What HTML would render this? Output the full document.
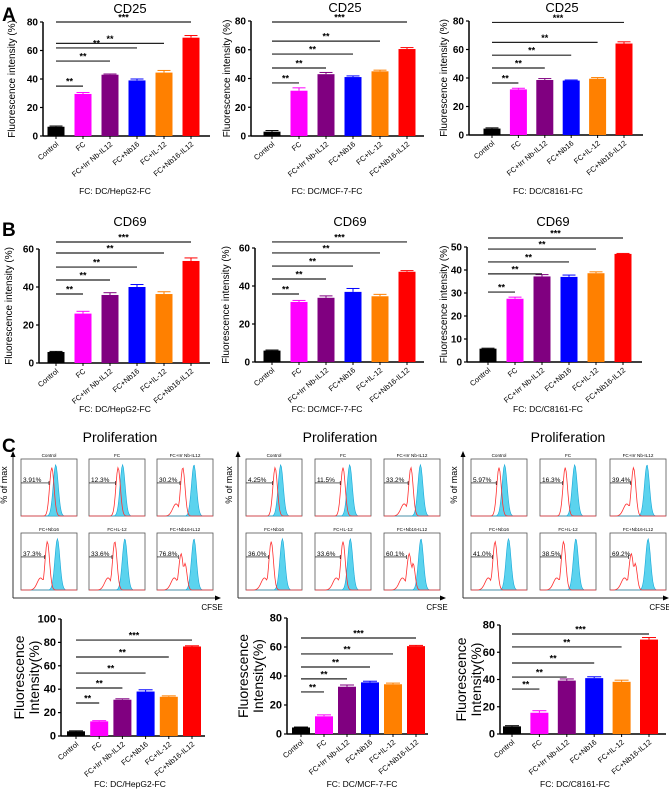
<!DOCTYPE html>
<html><head><meta charset="utf-8">
<style>
body{margin:0;background:#fff;}
svg{display:block;font-family:"Liberation Sans",Arial,sans-serif;}
</style></head>
<body>
<svg id="fig" width="669" height="790" viewBox="0 0 669 790" xmlns="http://www.w3.org/2000/svg">
<text x="2" y="21" font-size="19" font-weight="bold">A</text>
<text x="2" y="236" font-size="19" font-weight="bold">B</text>
<text x="2" y="452" font-size="19" font-weight="bold">C</text>
</svg>
<script>
const categories = ["Control","FC","FC+Irr Nb-IL12","FC+Nb16","FC+IL-12","FC+Nb16-IL12"];
const colors = ["#000000","#ff00ff","#800080","#0000ff","#ff8000","#ff0000"];
const a1Values = [6.5,29.5,43,39,44.5,69];
const a1Errors = [0.5,1,0.5,1,1.5,1.5];
const a2Values = [3,31.5,43,41,45,60.5];
const a2Errors = [0.8,2,1.2,0.8,0.8,1];
const a3Values = [4.5,32,38.6,38.2,39.5,64.2];
const a3Errors = [0.5,0.8,1,0.4,0.8,1.2];
const b1Values = [5.8,26,35.8,40,36.3,53.7];
const b1Errors = [0.3,1.2,1.2,1.3,1.2,1.6];
const b2Values = [6,31.6,33.8,36.9,34.6,47.5];
const b2Errors = [0.3,0.8,1,1.8,1,0.6];
const b3Values = [5.8,27.5,37.2,37,38.6,47];
const b3Errors = [0.2,0.7,0.8,0.8,0.6,0.2];
const c1Values = [4,12.5,31,38,33.5,76.5];
const c1Errors = [0.4,0.6,0.8,1.5,0.8,0.6];
const c2Values = [4.5,12.2,32.6,35.6,34.3,60.6];
const c2Errors = [0.3,1,1.2,0.8,0.8,0.5];
const c3Values = [5.6,15.6,39.2,41,38.3,69.3];
const c3Errors = [0.5,1.5,1.2,1,1.2,1.5];
const a1Sig = [35,52.6,61.8,65,80];
const a2Sig = [36.9,47.3,57,66,79.3];
const a3Sig = [36.5,47,56,65,79];
const b1Sig = [36.3,43.7,50.5,57.9,63.7];
const b2Sig = [35.8,43.7,50.5,57.4,63.2];
const b3Sig = [30.4,38.3,43.5,49.1,53.9];
const c1Sig = [28.2,41,53.8,67.5,82];
const c2Sig = [29,38,46.2,55.2,66.2];
const c3Sig = [33,41.8,52.1,63.9,73.4];
const sigLabels = ["**","**","**","**","***"];
const ticks80 = [0,20,40,60,80];
const ticks60 = [0,20,40,60];
const ticks50 = [0,10,20,30,40,50];
const ticks100 = [0,20,40,60,80,100];
const flowTitles = ["Control","FC","FC+Irr Nb-IL12","FC+Nb16","FC+IL-12","FC+Nb16-IL12"];
const flow1Pct = ["3.91%","12.3%","30.2%","37.3%","33.6%","76.8%"];
const flow2Pct = ["4.25%","11.5%","33.2%","36.0%","33.6%","60.1%"];
const flow3Pct = ["5.97%","16.3%","39.4%","41.0%","38.5%","69.2%"];

const NS="http://www.w3.org/2000/svg";
const svg=document.getElementById('fig');
function el(tag,attrs,parent,txt){const e=document.createElementNS(NS,tag);for(const k in attrs)e.setAttribute(k,attrs[k]);if(txt!==undefined)e.textContent=txt;(parent||svg).appendChild(e);return e;}

function barChart(cfg){
  const g=el('g',{});
  
  
  const maxT=cfg.ticks[cfg.ticks.length-1];
  const y=v=>cfg.y0-(cfg.y0-cfg.yTop)*v/maxT;
  const step=(cfg.cLast-cfg.c0)/5;
  const x=i=>cfg.c0+step*i;
  const bw=cfg.bw||17;
  const ya=el('line',{x1:cfg.ax,y1:y(maxT),x2:cfg.ax,y2:cfg.y0,stroke:'#000','stroke-width':1.5},g);
  
  const xa=el('line',{x1:cfg.ax,y1:cfg.y0,x2:cfg.axEnd,y2:cfg.y0,stroke:'#000','stroke-width':1.5},g);
  
  cfg.ticks.forEach(t=>{
    el('line',{x1:cfg.ax-3,y1:y(t),x2:cfg.ax,y2:y(t),stroke:'#000','stroke-width':1.2},g);
    const tl=el('text',{x:cfg.ax-5,y:y(t)+3.5,'font-size':cfg.tfs||10,'font-weight':'bold','text-anchor':'end'},g,t);
    
  });
  cfg.values.forEach((v,i)=>{
    const b=el('rect',{x:x(i)-bw/2,y:y(v),width:bw,height:cfg.y0-y(v),fill:colors[i]},g);
    
    
    const e=cfg.errors[i];
    el('line',{x1:x(i),y1:y(v),x2:x(i),y2:y(v+e),stroke:colors[i],'stroke-width':1},g);
    el('line',{x1:x(i)-bw/2+2,y1:y(v+e),x2:x(i)+bw/2-2,y2:y(v+e),stroke:colors[i],'stroke-width':1},g);
    el('line',{x1:x(i),y1:cfg.y0,x2:x(i),y2:cfg.y0+3,stroke:'#000','stroke-width':1},g);
    const lx=x(i)+3, ly=cfg.y0+9;
    const lab=el('text',{x:lx,y:ly,'font-size':cfg.lfs||7.5,'text-anchor':'end',transform:`rotate(-40 ${lx} ${ly})`},g,categories[i]);
    
  });
  cfg.sig.forEach((s,k)=>{
    const ln=el('line',{x1:x(0),y1:y(s),x2:x(k+1),y2:y(s),stroke:'#222','stroke-width':1.2},g);
    
    const st=el('text',{x:(x(0)+x(k+1))/2,y:y(s)-1.5,'font-size':9,'font-weight':'bold','text-anchor':'middle'},g,sigLabels[k]);
    
  });
  if(cfg.title){const t=el('text',{x:cfg.tx,y:cfg.ty,'font-size':13,'text-anchor':'middle'},g,cfg.title);}
  const f=el('text',{x:cfg.fx,y:cfg.fy,'font-size':cfg.ffs||8.5,'text-anchor':'middle'},g,cfg.footer);
  
  const ym=(cfg.yTop+cfg.y0)/2;
  if(cfg.twoLine){
    const t1=el('text',{x:cfg.ylx,y:ym,'font-size':14,'text-anchor':'middle',transform:`rotate(-90 ${cfg.ylx} ${ym})`},g,'Fluorescence');
    
    const t2=el('text',{x:cfg.ylx+15,y:ym,'font-size':14,'text-anchor':'middle',transform:`rotate(-90 ${cfg.ylx+15} ${ym})`},g,'Intensity(%)');
    
  } else {
    const t=el('text',{x:cfg.ylx,y:ym,'font-size':10,'text-anchor':'middle',transform:`rotate(-90 ${cfg.ylx} ${ym})`},g,'Fluorescence intensity (%)');
    
  }
}

barChart({name:'cd25-hepg2-chart',values:a1Values,errors:a1Errors,sig:a1Sig,ticks:ticks80,ax:43,axEnd:210,y0:136,yTop:22,c0:56,cLast:191,title:'CD25',tx:130,ty:13,footer:'FC: DC/HepG2-FC',fx:115,fy:194,ylx:15});
barChart({name:'cd25-mcf7-chart',values:a2Values,errors:a2Errors,sig:a2Sig,ticks:ticks80,ax:251,axEnd:424,y0:136,yTop:21,c0:272,cLast:407,title:'CD25',tx:345,ty:12,footer:'FC: DC/MCF-7-FC',fx:327,fy:194,ylx:230});
barChart({name:'cd25-c8161-chart',values:a3Values,errors:a3Errors,sig:a3Sig,ticks:ticks80,ax:469,axEnd:643,y0:135,yTop:21,c0:492,cLast:624,title:'CD25',tx:562,ty:12,footer:'FC: DC/C8161-FC',fx:548,fy:194,ylx:447});
barChart({name:'cd69-hepg2-chart',values:b1Values,errors:b1Errors,sig:b1Sig,ticks:ticks60,ax:39,axEnd:210,y0:363,yTop:249,c0:56,cLast:191,title:'CD69',tx:130,ty:226,footer:'FC: DC/HepG2-FC',fx:115,fy:412,ylx:12});
barChart({name:'cd69-mcf7-chart',values:b2Values,errors:b2Errors,sig:b2Sig,ticks:ticks60,ax:255,axEnd:424,y0:362,yTop:248,c0:272,cLast:407,title:'CD69',tx:350,ty:226,footer:'FC: DC/MCF-7-FC',fx:327,fy:412,ylx:229});
barChart({name:'cd69-c8161-chart',values:b3Values,errors:b3Errors,sig:b3Sig,ticks:ticks50,ax:467,axEnd:642,y0:362,yTop:247,c0:488,cLast:623,title:'CD69',tx:553,ty:226,footer:'FC: DC/C8161-FC',fx:548,fy:412,ylx:447});
barChart({name:'proliferation-hepg2-chart',values:c1Values,errors:c1Errors,sig:c1Sig,ticks:ticks100,ax:61,axEnd:205,y0:736,yTop:619,c0:76,cLast:192,footer:'FC: DC/HepG2-FC',fx:130,fy:787,ylx:24,twoLine:true,tfs:11,bw:18});
barChart({name:'proliferation-mcf7-chart',values:c2Values,errors:c2Errors,sig:c2Sig,ticks:ticks80,ax:287,axEnd:428,y0:734,yTop:618,c0:301,cLast:416,footer:'FC: DC/MCF-7-FC',fx:362,fy:787,ylx:248,twoLine:true,tfs:11,bw:18});
barChart({name:'proliferation-c8161-chart',values:c3Values,errors:c3Errors,sig:c3Sig,ticks:ticks80,ax:500,axEnd:666,y0:734,yTop:625,c0:512,cLast:649,footer:'FC: DC/C8161-FC',fx:575,fy:787,ylx:466,twoLine:true,tfs:11,bw:18});

function gauss(x,m,s){return Math.exp(-((x-m)*(x-m))/(2*s*s));}
function flowPanel(cfg){
  const g=el('g',{});
  
  
  const t=el('text',{x:cfg.tx,y:442,'font-size':14,'text-anchor':'middle'},g,'Proliferation');
  
  el('line',{x1:cfg.axx,y1:598,x2:cfg.axx,y2:455,stroke:'#333','stroke-width':1},g);
  el('polygon',{points:`${cfg.axx-2.5},457 ${cfg.axx+2.5},457 ${cfg.axx},451`,fill:'#000'},g);
  el('line',{x1:cfg.axx,y1:598,x2:cfg.axEnd-4,y2:598,stroke:'#333','stroke-width':1},g);
  el('polygon',{points:`${cfg.axEnd-5},595.5 ${cfg.axEnd-5},600.5 ${cfg.axEnd+1},598`,fill:'#000'},g);
  const c=el('text',{x:cfg.axEnd-8,y:610,'font-size':8,'text-anchor':'middle'},g,'CFSE');
  
  const ylx=cfg.axx-6, ym=485;
  const yl=el('text',{x:ylx,y:ym,'font-size':9,'text-anchor':'middle',transform:`rotate(-90 ${ylx} ${ym})`},g,'% of max');
  
  const rows=[459,533], w=56, h=57;
  for(let i=0;i<6;i++){
    const bx=cfg.bxs[i%3], by=rows[Math.floor(i/3)];
    const box=el('g',{},g);
    
    
    el('rect',{x:bx,y:by,width:w,height:h,fill:'#fff',stroke:'#555','stroke-width':0.8},box);
    el('text',{x:bx+w/2,y:by-2,'font-size':4.6,'text-anchor':'middle'},box,flowTitles[i]);
    const bm=cfg.blue[i], rm=cfg.red[i];
    let bp=`M${bx},${by+h}`, rp='';
    for(let k=0;k<=60;k++){const u=k/60;const v=gauss(u,bm,0.045);bp+=` L${bx+u*w},${by+h-v*h*0.9}`;}
    bp+=` L${bx+w},${by+h} Z`;
    el('path',{d:bp,fill:'#5bd3ee',stroke:'#1aa8d8','stroke-width':0.6},box);
    for(let k=0;k<=60;k++){const u=k/60;let v=gauss(u,rm,0.04);if(i>=2)v=Math.max(v,0.25*gauss(u,rm-0.12,0.06));if(i===5)v=Math.max(gauss(u,rm,0.04)*0.75,0.55*gauss(u,rm+0.07,0.035),0.25*gauss(u,rm-0.12,0.06));rp+=(k?' L':'M')+`${bx+u*w},${by+h-v*h*0.85}`;}
    el('path',{d:rp,fill:'none',stroke:'#ff3030','stroke-width':0.8},box);
    const ly=by+h*0.42, lx2=bx+(rm-0.05)*w;
    el('line',{x1:bx,y1:ly,x2:lx2,y2:ly,stroke:'#000','stroke-width':0.6},box);
    el('line',{x1:lx2,y1:ly-2,x2:lx2,y2:ly+2,stroke:'#000','stroke-width':0.6},box);
    el('text',{x:bx+2,y:ly-1,'font-size':6.5},box,cfg.pct[i]);
  }
}
const flowRedPeak1=[0.55,0.52,0.46,0.47,0.46,0.43];
const flowBluePeak1=[0.62,0.6,0.66,0.65,0.64,0.66];
const flowRedPeak2=[0.52,0.5,0.48,0.45,0.5,0.45];
const flowBluePeak2=[0.62,0.62,0.65,0.65,0.63,0.66];
const flowRedPeak3=[0.5,0.45,0.42,0.43,0.42,0.38];
const flowBluePeak3=[0.6,0.62,0.66,0.67,0.64,0.68];
flowPanel({name:'flow-hepg2',tx:120,axx:13,axEnd:220,bxs:[21,89,157],pct:flow1Pct,red:flowRedPeak1,blue:flowBluePeak1});
flowPanel({name:'flow-mcf7',tx:340,axx:238,axEnd:445,bxs:[246,315,384],pct:flow2Pct,red:flowRedPeak2,blue:flowBluePeak2});
flowPanel({name:'flow-c8161',tx:568,axx:463,axEnd:668,bxs:[471,540,610],pct:flow3Pct,red:flowRedPeak3,blue:flowBluePeak3});
</script>
</body></html>
